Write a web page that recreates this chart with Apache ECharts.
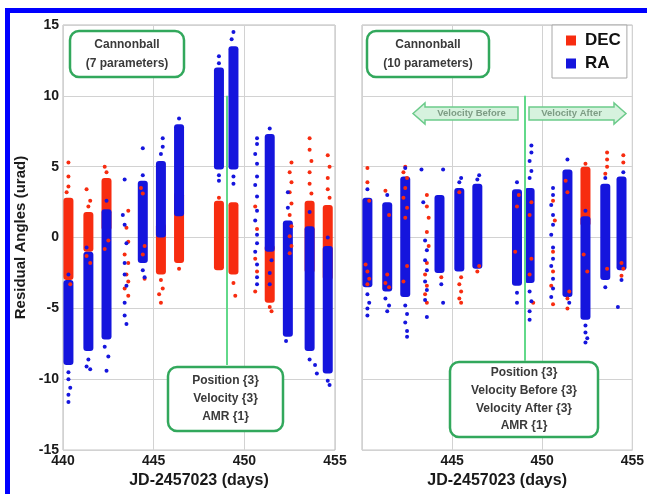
<!DOCTYPE html>
<html>
<head>
<meta charset="utf-8">
<script src="https://cdn.jsdelivr.net/npm/echarts@6/dist/echarts.min.js"></script>
<style>
  html, body { margin: 0; padding: 0; background: #fff; }
  #chart { width: 647px; height: 494px; }
</style>
</head>
<body>
<div id="chart"></div>
<script>
// Axis ticks
const dayTicks = [440, 445, 450, 455];
const angleTicks = [-15, -10, -5, 0, 5, 10, 15];

// Residuals, cannonball fit with 7 parameters
// Dense nightly clusters: [day, low, high]
const fit7DecCores = [
  [440.3, -3.0, 2.8], [441.4, -1.0, 1.8], [442.4, 0.5, 4.2], [445.4, -2.6, 1.0],
  [446.4, -1.8, 3.2], [448.6, -2.3, 2.6], [449.4, -2.6, 2.5], [451.4, -4.6, -0.5],
  [453.6, -2.5, 2.6], [454.6, -3.0, 2.3]
];
const fit7RaCores = [
  [440.3, -9.0, -3.0], [441.4, -8.0, -1.0], [442.4, -7.2, 2.0], [444.4, -1.8, 4.0],
  [445.4, 0.0, 5.4], [446.4, 1.5, 8.0], [448.6, 4.8, 12.0], [449.4, 4.8, 13.5],
  [451.4, -1.0, 7.3], [452.4, -7.0, 1.2], [453.6, -8.0, 0.8], [454.6, -9.6, -0.6]
];
// Sparse individual measurements: [day, angle]
const fit7DecDots = [
  [440.3, 5.3], [440.3, 4.3], [440.3, 3.6], [440.2, 3.2], [440.4, -3.3],
  [441.3, 3.4], [441.5, 2.6], [441.4, 2.2], [441.3, -1.3], [441.5, -1.8],
  [442.3, 5.0], [442.4, 4.6], [442.5, -0.2], [442.3, -0.8],
  [443.6, 1.9], [443.5, 0.7], [443.6, -0.3], [443.4, -1.2], [443.6, -1.8], [443.5, -2.6],
  [443.6, -3.1], [443.4, -3.6], [443.6, -4.1],
  [444.3, 3.5], [444.4, 3.1], [444.5, -0.6], [444.4, -1.2], [444.5, -2.9],
  [445.4, -3.0], [445.5, -3.6], [445.3, -4.0], [445.4, -4.6],
  [446.4, -2.2], [448.6, 2.8], [449.4, -3.2], [449.5, -4.1],
  [450.6, 2.2], [450.7, 0.6], [450.6, -1.5], [450.7, -2.4], [450.6, -3.8],
  [451.4, -4.9], [451.5, -5.2],
  [452.6, 5.3], [452.5, 4.6], [452.6, 3.9], [452.5, 3.2], [452.6, 2.4], [452.5, 1.6],
  [452.6, 0.8], [452.5, 0.1], [452.6, -0.6], [452.5, -1.1],
  [453.6, 7.0], [453.6, 6.2], [453.7, 5.4], [453.6, 4.6], [453.6, 3.8], [453.7, 3.1],
  [454.6, 5.8], [454.7, 5.0], [454.6, 4.2], [454.6, 3.4], [454.7, 2.8]
];
const fit7RaDots = [
  [440.3, -2.6], [440.3, -9.5], [440.3, -10.0], [440.4, -10.6], [440.3, -11.1], [440.3, -11.6],
  [441.3, -0.7], [441.4, -8.6], [441.3, -9.1], [441.5, -9.3],
  [442.4, 2.6], [442.3, -7.7], [442.5, -8.4], [442.4, -9.4],
  [443.4, 4.1], [443.3, 1.6], [443.4, 0.9], [443.5, -0.4], [443.4, -1.8], [443.4, -2.6],
  [443.5, -3.4], [443.4, -4.6], [443.4, -5.5], [443.5, -6.1],
  [444.4, 6.3], [444.4, 4.4], [444.4, -2.3], [444.5, -2.8],
  [445.4, 5.9], [445.5, 6.4], [445.5, 7.0], [446.4, 8.4],
  [448.6, 12.8], [448.6, 12.3], [448.6, 4.4], [448.6, 4.0],
  [449.4, 14.5], [449.3, 14.0], [449.4, 4.3], [449.4, 3.8],
  [450.7, 7.0], [450.7, 6.6], [450.6, 5.9], [450.7, 5.2], [450.7, 4.3], [450.6, 3.7],
  [450.7, 2.9], [450.7, 1.9], [450.6, 1.2], [450.7, 0.2], [450.7, -0.4], [450.6, -1.0],
  [450.7, -1.9], [450.7, -2.8], [450.7, -3.3],
  [451.4, 7.7], [451.5, -1.6], [451.4, -2.5], [451.4, -3.3],
  [452.4, 3.2], [452.4, 2.1], [452.3, -7.3],
  [453.6, 1.8], [453.6, -8.6], [453.9, -9.0], [454.0, -9.6],
  [454.6, 0.0], [454.6, -10.1], [454.7, -10.4]
];

// Residuals, cannonball fit with 10 parameters
const fit10DecCores = [[452.4, 0.8, 5.0]];
const fit10RaCores = [
  [440.3, -3.5, 2.8], [441.4, -3.8, 2.5], [442.4, -4.2, 4.3], [444.3, -2.5, 3.0],
  [445.4, -2.4, 3.5], [446.4, -2.2, 3.8], [448.6, -3.4, 3.4], [449.3, -3.2, 3.5],
  [451.4, -4.2, 4.8], [452.4, -5.8, 1.5], [453.5, -3.0, 3.8], [454.4, -2.3, 4.3]
];
const fit10DecDots = [
  [440.3, 4.9], [440.3, 3.9], [440.4, 2.6], [440.2, -1.9], [440.3, -2.4], [440.4, -2.9], [440.3, -3.3],
  [441.3, 3.3], [441.5, 1.6], [441.4, -2.6], [441.3, -3.2], [441.5, -3.5],
  [442.4, 5.0], [442.3, 4.6], [442.5, 4.2], [442.4, 3.5], [442.3, 2.8], [442.5, 2.1], [442.4, 1.4],
  [442.5, -2.0], [442.3, -3.1],
  [443.6, 3.0], [443.6, 2.2], [443.7, 1.4], [443.6, 0.4], [443.7, -0.6], [443.6, -1.8],
  [443.5, -2.6], [443.6, -3.4], [443.5, -4.0], [443.6, -4.6],
  [444.4, -2.8],
  [445.4, 3.2], [445.5, -2.8], [445.4, -3.3], [445.5, -3.8], [445.4, -4.3], [445.5, -4.6],
  [446.4, -2.4], [446.5, -2.0],
  [448.7, 3.0], [448.6, 2.2], [448.5, -1.0],
  [449.4, 2.5], [449.3, 1.6], [449.4, -1.5], [449.3, -2.6], [449.5, -4.6],
  [450.6, 2.6], [450.7, 1.2], [450.6, -1.0], [450.6, -2.4], [450.5, -3.4], [450.6, -4.7],
  [451.3, 4.0], [451.4, 3.2], [451.5, -3.8], [451.4, -4.3], [451.4, -5.0],
  [452.4, 5.2], [452.3, -1.2], [452.5, -2.4],
  [453.6, 6.0], [453.6, 5.5], [453.6, 5.0], [453.5, 4.5], [453.6, -2.2],
  [454.5, 5.8], [454.5, 5.3], [454.4, -1.8], [454.5, -2.2], [454.4, -2.7]
];
const fit10RaDots = [
  [440.3, 3.4], [440.3, -4.0], [440.4, -4.6], [440.3, -5.0], [440.3, -5.5],
  [441.4, 3.0], [441.3, -4.3], [441.5, -4.8], [441.4, -5.2],
  [442.4, 4.9], [442.4, -4.8], [442.5, -5.4], [442.4, -6.0], [442.5, -6.6], [442.5, -7.0],
  [443.3, 4.8], [443.4, 2.5], [443.5, -0.2], [443.6, -0.9], [443.5, -1.6], [443.6, -2.3],
  [443.5, -3.1], [443.6, -3.7], [443.5, -4.4], [443.6, -5.6],
  [444.5, 4.8], [444.4, -3.3], [444.5, -4.6],
  [445.4, 3.9], [445.5, 4.2], [446.4, 4.1], [446.5, 4.4],
  [448.6, 3.9], [448.6, -3.9], [448.6, -4.6],
  [449.4, 6.5], [449.4, 6.0], [449.3, 5.4], [449.4, 4.7], [449.3, 4.2],
  [449.3, -3.8], [449.4, -4.5], [449.3, -5.2], [449.3, -5.8],
  [450.6, 3.5], [450.6, 3.0], [450.5, 2.3], [450.6, 1.6], [450.6, 0.9], [450.5, 0.2],
  [450.6, -0.7], [450.6, -1.5], [450.5, -2.0], [450.6, -2.9], [450.6, -3.6], [450.5, -4.2],
  [451.4, 5.5], [451.5, -4.6],
  [452.4, 1.9], [452.4, -6.2], [452.4, -6.7], [452.5, -7.1], [452.4, -7.4],
  [453.5, 4.2], [453.5, -3.5],
  [454.5, 4.6], [454.4, -3.0], [454.2, -4.9]
];

// Maneuver epoch (green marker) and its vertical extent
const maneuverDay = 449.05;
const maneuverSpan7 = [10, -9.0];
const maneuverSpan10 = [10, -8.7];

const RED = '#f72c10';
const BLUE = '#1515dd';
const FONT = '"Liberation Sans", Arial, sans-serif';

const chart = echarts.init(document.getElementById('chart'), null, { renderer: 'canvas' });

function coreRenderer(width) {
  return function (params, api) {
    const x = api.value(0);
    const top = api.coord([x, api.value(2)]);
    const bottom = api.coord([x, api.value(1)]);
    return {
      type: 'rect',
      shape: { x: top[0] - width / 2, y: top[1], width: width, height: bottom[1] - top[1], r: 3 },
      style: { fill: api.visual('color') }
    };
  };
}

function coreSeries(name, data, color, idx) {
  return {
    name: name, type: 'custom', xAxisIndex: idx, yAxisIndex: idx,
    renderItem: coreRenderer(10), data: data,
    encode: { x: 0, y: [1, 2] },
    itemStyle: { color: color }, silent: true
  };
}
function dotSeries(name, data, color, idx) {
  return {
    name: name, type: 'scatter', xAxisIndex: idx, yAxisIndex: idx,
    data: data, symbolSize: 4, itemStyle: { color: color, opacity: 1 }, silent: true
  };
}
function maneuverLine(idx, span) {
  return {
    type: 'line', xAxisIndex: idx, yAxisIndex: idx, data: [], silent: true,
    markLine: {
      silent: true, symbol: ['none', 'none'], label: { show: false },
      lineStyle: { color: '#62d98a', width: 2, type: 'solid' },
      data: [[{ coord: [maneuverDay, span[0]] }, { coord: [maneuverDay, span[1]] }]]
    }
  };
}

const gridLine = { show: true, lineStyle: { color: '#d2d2d2', width: 1 } };
const tickFont = { fontFamily: FONT, fontWeight: 'bold', fontSize: 14, color: '#1a1a1a' };

function xAxisFor(idx, hideFirst) {
  return {
    type: 'value', gridIndex: idx, min: dayTicks[0], max: dayTicks[dayTicks.length - 1], interval: 5,
    name: 'JD-2457023 (days)', nameLocation: 'middle', nameGap: 17,
    nameTextStyle: { fontFamily: FONT, fontWeight: 'bold', fontSize: 16, color: '#1a1a1a' },
    axisLine: { show: false }, axisTick: { show: false }, splitLine: gridLine,
    axisLabel: Object.assign({ margin: 4, showMinLabel: true, showMaxLabel: true,
      formatter: v => (hideFirst && v === dayTicks[0]) ? '' : String(v) }, tickFont)
  };
}
function yAxisFor(idx, labelled) {
  const ax = {
    type: 'value', gridIndex: idx, min: angleTicks[0], max: angleTicks[angleTicks.length - 1], interval: 5,
    axisLine: { show: false }, axisTick: { show: false }, splitLine: gridLine,
    axisLabel: Object.assign({ show: labelled, margin: 4 }, tickFont)
  };
  if (labelled) {
    ax.name = 'Residual Angles (urad)';
    ax.nameLocation = 'middle';
    ax.nameGap = 35;
    ax.nameTextStyle = { fontFamily: FONT, fontWeight: 'bold', fontSize: 15, color: '#1a1a1a' };
  }
  return ax;
}

function labelBox(x, y, w, h, text, lineHeight) {
  return {
    type: 'group',
    children: [
      { type: 'rect', z: 100, shape: { x: x, y: y, width: w, height: h, r: 9 },
        style: { fill: '#ffffff', stroke: '#32a85c', lineWidth: 2.5 } },
      { type: 'text', z: 101, x: x + w / 2, y: y + h / 2,
        style: { text: text, align: 'center', verticalAlign: 'middle', lineHeight: lineHeight,
          font: 'bold 12px ' + FONT, fill: '#3a3a3a' } }
    ]
  };
}
function arrowBox(x0, x1, yc, pointLeft, text) {
  const hh = 6.5, headH = 10.5, headW = 12;
  let pts;
  if (pointLeft) {
    pts = [[x0, yc], [x0 + headW, yc - headH], [x0 + headW, yc - hh], [x1, yc - hh],
           [x1, yc + hh], [x0 + headW, yc + hh], [x0 + headW, yc + headH]];
  } else {
    pts = [[x1, yc], [x1 - headW, yc - headH], [x1 - headW, yc - hh], [x0, yc - hh],
           [x0, yc + hh], [x1 - headW, yc + hh], [x1 - headW, yc + headH]];
  }
  const tx = pointLeft ? (x0 + headW + x1) / 2 : (x0 + x1 - headW) / 2;
  return {
    type: 'group',
    children: [
      { type: 'polygon', z: 100, shape: { points: pts },
        style: { fill: '#d6f2de', stroke: '#6ccb8b', lineWidth: 1.5 } },
      { type: 'text', z: 101, x: tx, y: yc,
        style: { text: text, align: 'center', verticalAlign: 'middle',
          font: 'bold 9.5px ' + FONT, fill: '#7d9c84' } }
    ]
  };
}

const option = {
  animation: false,
  backgroundColor: '#ffffff',
  grid: [
    { left: 63, top: 25, width: 272, height: 427, show: true, borderColor: '#b8b8b8', borderWidth: 1 },
    { left: 362, top: 25, width: 271, height: 427, show: true, borderColor: '#b8b8b8', borderWidth: 1 }
  ],
  xAxis: [xAxisFor(0, false), xAxisFor(1, true)],
  yAxis: [yAxisFor(0, true), yAxisFor(1, false)],
  legend: {
    orient: 'vertical', left: 552, top: 25, icon: 'rect',
    itemWidth: 10, itemHeight: 10, itemGap: 6,
    backgroundColor: '#ffffff', borderColor: '#a8a8a8', borderWidth: 1, borderRadius: 0,
    padding: [7, 6, 6, 14],
    textStyle: { fontFamily: FONT, fontWeight: 'bold', fontSize: 17, color: '#111', padding: [0, 0, 0, 4] },
    data: [{ name: 'DEC', itemStyle: { color: RED } }, { name: 'RA', itemStyle: { color: BLUE } }]
  },
  series: [
    coreSeries('DEC', fit7DecCores, RED, 0),
    coreSeries('RA', fit7RaCores, BLUE, 0),
    dotSeries('DEC', fit7DecDots, RED, 0),
    dotSeries('RA', fit7RaDots, BLUE, 0),
    maneuverLine(0, maneuverSpan7),
    coreSeries('DEC', fit10DecCores, RED, 1),
    coreSeries('RA', fit10RaCores, BLUE, 1),
    dotSeries('DEC', fit10DecDots, RED, 1),
    dotSeries('RA', fit10RaDots, BLUE, 1),
    maneuverLine(1, maneuverSpan10)
  ],
  graphic: [
    // page frame
    { type: 'rect', z: 200, silent: true,
      shape: { x: 7.5, y: 10.5, width: 700, height: 600 },
      style: { fill: 'none', stroke: '#0000ff', lineWidth: 5 } },
    labelBox(70, 31, 114, 46, 'Cannonball\n(7 parameters)', 19),
    labelBox(367, 31, 122, 46, 'Cannonball\n(10 parameters)', 19),
    labelBox(168, 367, 115, 64, 'Position {3}\nVelocity {3}\nAMR {1}', 18),
    labelBox(450, 362, 148, 75, 'Position {3}\nVelocity Before {3}\nVelocity After {3}\nAMR {1}', 17.7),
    arrowBox(413, 518, 113.5, true, 'Velocity Before'),
    arrowBox(529, 626, 113.5, false, 'Velocity After')
  ]
};

chart.setOption(option);
</script>
</body>
</html>
